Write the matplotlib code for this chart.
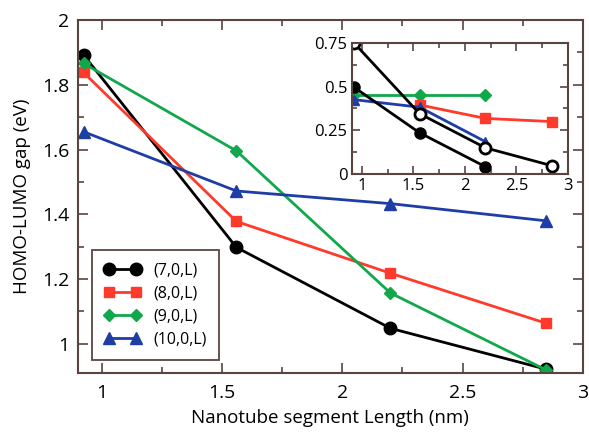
import matplotlib.pyplot as plt
from matplotlib.ticker import MultipleLocator

plt.rcParams['font.family'] = ['Open Sans', 'DejaVu Sans']

# segment lengths (nm)
length = [0.925, 1.56, 2.20, 2.845]

# main panel: HOMO-LUMO gap (eV)
gap_7 = [1.892, 1.298, 1.048, 0.922]
gap_8 = [1.838, 1.378, 1.218, 1.064]
gap_9 = [1.866, 1.596, 1.157, 0.920]
gap_10 = [1.655, 1.472, 1.433, 1.380]

# inset
ins_7_fill = [0.495, 0.236, 0.042]
ins_7_open = [0.748, 0.345, 0.150, 0.048]
ins_8 = [0.395, 0.318, 0.300]
ins_9 = [0.452, 0.452, 0.452]
ins_10 = [0.425, 0.382, 0.185]

labels = ['(7,0,L)', '(8,0,L)', '(9,0,L)', '(10,0,L)']
BLACK = '#000000'
RED = '#ff3a2a'
GREEN = '#10a84a'
BLUE = '#1e3da5'
SPINE = '#5a4440'

fig = plt.figure(figsize=(5.89, 4.32), dpi=100)
ax = fig.add_axes([0.1316, 0.1366, 0.8582, 0.8171])

ax.plot(length, gap_7, '-o', color=BLACK, lw=2, ms=9, label=labels[0])
ax.plot(length, gap_8, '-s', color=RED, lw=2, ms=7.5, label=labels[1])
ax.plot(length, gap_9, '-D', color=GREEN, lw=2, ms=6.5, label=labels[2])
ax.plot(length, gap_10, '-^', color=BLUE, lw=2, ms=8, label=labels[3])

ax.set_xlim(0.9, 3.0)
ax.set_ylim(0.91, 2.0)
ax.xaxis.set_minor_locator(MultipleLocator(0.25))
ax.yaxis.set_minor_locator(MultipleLocator(0.1))
ax.set_xticks([1, 1.5, 2, 2.5, 3])
ax.set_xticklabels(['1', '1.5', '2', '2.5', '3'])
ax.set_yticks([1, 1.2, 1.4, 1.6, 1.8, 2])
ax.set_yticklabels(['1', '1.2', '1.4', '1.6', '1.8', '2'])
ax.tick_params(which='both', direction='in', top=True, right=True,
               color=SPINE, labelsize=14)
ax.tick_params(axis='x', pad=8)
ax.tick_params(axis='y', pad=6)
ax.tick_params(which='major', length=7, width=1.2)
ax.tick_params(which='minor', length=4, width=1.2)
for s in ax.spines.values():
    s.set_color(SPINE)
    s.set_linewidth(1.5)
ax.set_xlabel('Nanotube segment Length (nm)', fontsize=13.5, labelpad=5)
ax.set_ylabel('HOMO-LUMO gap (eV)', fontsize=13.5, labelpad=8)

leg = ax.legend(loc='lower left', bbox_to_anchor=(0.029, 0.037),
                borderaxespad=0, fontsize=11.5,
                frameon=True, fancybox=False, edgecolor=SPINE, framealpha=1,
                handlelength=2.3, handletextpad=0.8, labelspacing=0.45,
                borderpad=0.75, numpoints=2)
leg.get_frame().set_linewidth(1.3)

# inset
ins = fig.add_axes([0.597, 0.597, 0.367, 0.304])
ins.plot(length[:3], ins_9, '-D', color=GREEN, lw=2, ms=6)
ins.plot(length[1:], ins_8, '-s', color=RED, lw=2, ms=7)
ins.plot(length[:3], ins_10, '-^', color=BLUE, lw=2, ms=7)
ins.plot(length[:3], ins_7_fill, '-o', color=BLACK, lw=2, ms=8)
ins.plot(length, ins_7_open, '-o', color=BLACK, lw=2, ms=8, mfc='white',
         mew=2)
ins.set_xlim(0.9, 3.0)
ins.set_ylim(0, 0.75)
ins.set_xticks([1, 1.5, 2, 2.5, 3])
ins.set_xticklabels(['1', '1.5', '2', '2.5', '3'])
ins.set_yticks([0, 0.25, 0.5, 0.75])
ins.set_yticklabels(['0', '0.25', '0.5', '0.75'])
ins.xaxis.set_minor_locator(MultipleLocator(0.25))
ins.yaxis.set_minor_locator(MultipleLocator(0.125))
ins.tick_params(which='both', direction='in', top=True, right=True,
                color=SPINE, labelsize=12, pad=3)
ins.tick_params(which='major', length=6, width=1.2)
ins.tick_params(which='minor', length=3.5, width=1.2)
for s in ins.spines.values():
    s.set_color(SPINE)
    s.set_linewidth(1.5)

fig.savefig('out.png', dpi=100)
